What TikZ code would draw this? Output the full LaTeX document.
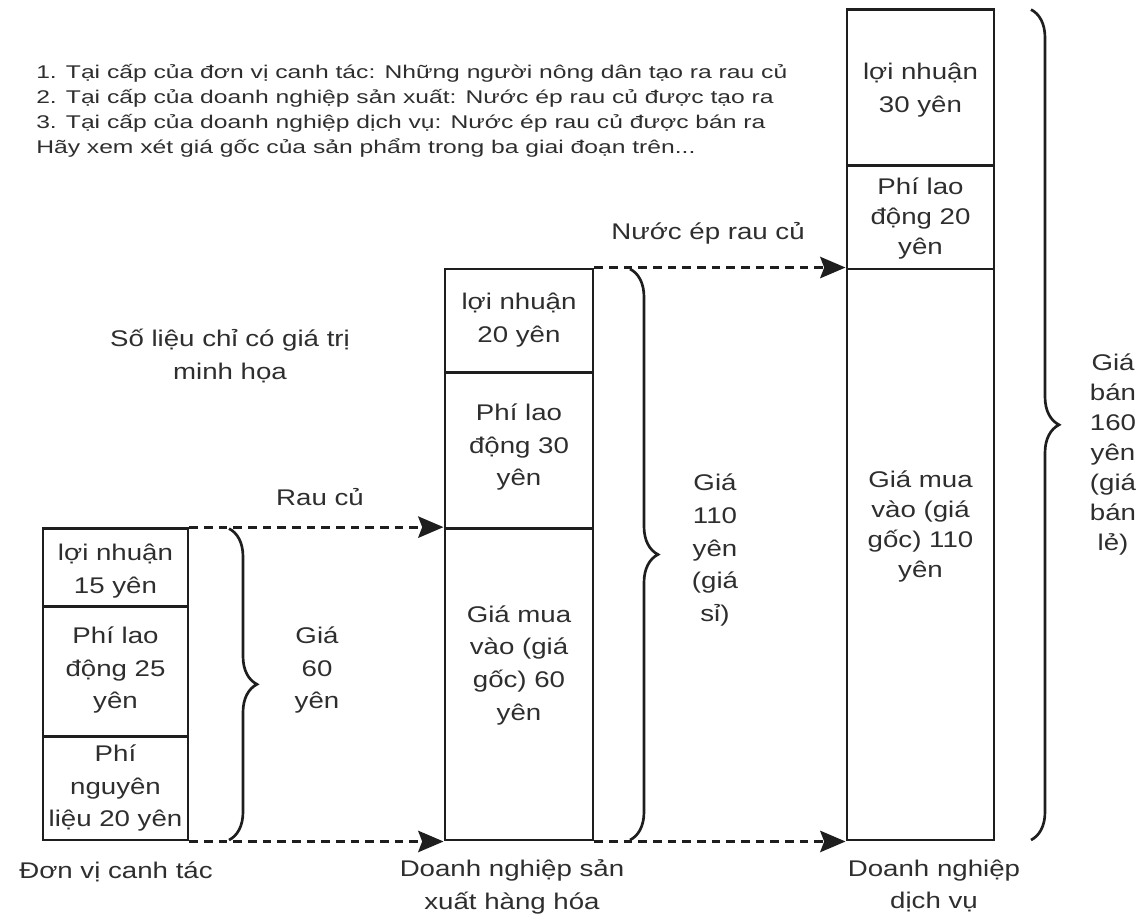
\documentclass[tikz,border=0pt]{standalone}
\usepackage{fontspec}
\setmainfont{Liberation Sans}[FakeStretch=1.22]
\newfontfamily\notefont{Liberation Sans}[FakeStretch=1.34]
\usetikzlibrary{arrows.meta,fit,decorations.pathreplacing}
\definecolor{ink}{HTML}{1E1E1E}
\definecolor{txt}{HTML}{2E2E2E}
\begin{document}
\begin{tikzpicture}[x=0.75pt,y=-0.75pt,
  seg/.style={draw=ink, line width=2.2pt, inner sep=0pt},
  lbl/.style={text=txt, font=\fontsize{17pt}{24.5pt}\selectfont, align=center, inner sep=0pt},
  lbltight/.style={lbl, font=\fontsize{17pt}{22.5pt}\selectfont},
  note/.style={text=txt, font=\notefont\fontsize{13.8pt}{18.75pt}\selectfont, align=left, inner sep=0pt},
  flow/.style={draw=ink, line width=2.2pt, dash pattern=on 6.5pt off 4.5pt,
    -{Stealth[length=19pt,width=16pt,inset=3pt]}},
  brc/.style={draw=ink, line width=2pt, decorate,
    decoration={brace, amplitude=21pt}},
]
\useasboundingbox (0,0) rectangle (1145,921);

% ---- farm: 60 yen in three parts ----
\node[seg, fit={(43,528.6) (188,606.5)}] (f1) {};
\node[seg, fit={(43,606.5) (188,736.2)}] (f2) {};
\node[seg, fit={(43,736.2) (188,840)}] (f3) {};
\node[lbl] (f1t) at (115.5,571) {lợi nhuận\\15 yên};
\node[lbl] (f2t) at (115.5,670) {Phí lao\\động 25\\yên};
\node[lbl] (f3t) at (115.5,788) {Phí\\nguyên\\liệu 20 yên};

% ---- manufacturer: 110 yen ----
\node[seg, fit={(445,269) (593,372.9)}] (p1) {};
\node[seg, fit={(445,372.9) (593,528.6)}] (p2) {};
\node[seg, fit={(445,528.6) (593,840)}] (p3) {};
\node[lbl] (p1t) at (519,320) {lợi nhuận\\20 yên};
\node[lbl] (p2t) at (519,447) {Phí lao\\động 30\\yên};
\node[lbl] (p3t) at (519,665) {Giá mua\\vào (giá\\gốc) 60\\yên};

% ---- service business: 160 yen ----
\node[seg, fit={(847,9.6) (994,165.3)}] (d1) {};
\node[seg, fit={(847,165.3) (994,269)}] (d2) {};
\node[seg, fit={(847,269) (994,840)}] (d3) {};
\node[lbl] (d1t) at (920.5,90) {lợi nhuận\\30 yên};
\node[lbltight] (d2t) at (920.5,219) {Phí lao\\động 20\\yên};
\node[lbltight] (d3t) at (920.5,526) {Giá mua\\vào (giá\\gốc) 110\\yên};

% ---- flows between the stages ----
\draw[flow] (f1.north east) -- (p3.north west);
\draw[flow] (f3.south east) -- (p3.south west);
\draw[flow] (p1.north east) -- (d3.north west);
\draw[flow] (p3.south east) -- (d3.south west);
\node[lbl] (veg) at (320,497) {Rau củ};
\node[lbl] (juice) at (708,233) {Nước ép rau củ};

% ---- price braces ----
\coordinate (b1t) at (229,528.6);
\coordinate (b1b) at (229,840);
\coordinate (b2t) at (630,269);
\coordinate (b2b) at (630,840);
\coordinate (b3t) at (1031,9.6);
\coordinate (b3b) at (1031,840);
\draw[brc] (b1t) -- (b1b);
\draw[brc] (b2t) -- (b2b);
\draw[brc] (b3t) -- (b3b);
\node[lbl] (g1) at (317,670) {Giá\\60\\yên};
\node[lbl] (g2) at (715,550) {Giá\\110\\yên\\(giá\\sỉ)};
\node[lbltight] (g3) at (1113,454) {Giá\\bán\\160\\yên\\(giá\\bán\\lẻ)};

% ---- stage names ----
\node[lbl] (n1) at (116,872) {Đơn vị canh tác};
\node[lbl] (n2) at (512,887) {Doanh nghiệp sản\\xuất hàng hóa};
\node[lbl] (n3) at (934,886) {Doanh nghiệp\\dịch vụ};

% ---- notes ----
\node[lbl] (demo) at (230,356) {Số liệu chỉ có giá trị\\minh họa};
\node[note, anchor=north west] (intro) at (36,64) {1. Tại cấp của đơn vị canh tác: Những người nông dân tạo ra rau củ\\
2. Tại cấp của doanh nghiệp sản xuất: Nước ép rau củ được tạo ra\\
3. Tại cấp của doanh nghiệp dịch vụ: Nước ép rau củ được bán ra\\
Hãy xem xét giá gốc của sản phẩm trong ba giai đoạn trên...};
\end{tikzpicture}
\end{document}
